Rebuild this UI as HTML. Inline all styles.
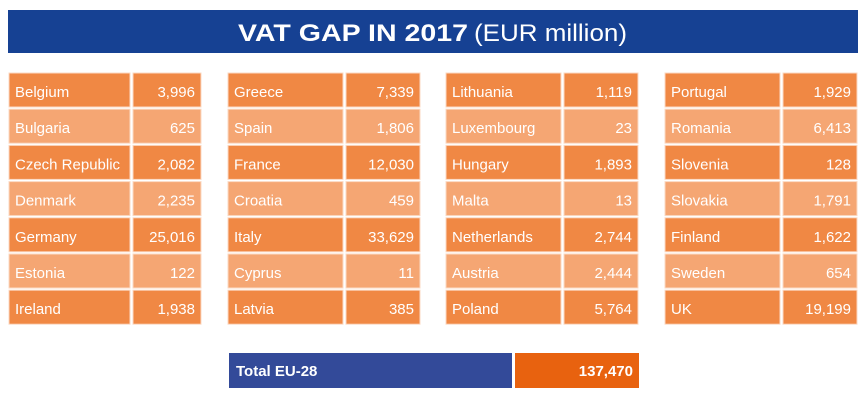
<!DOCTYPE html>
<html><head><meta charset="utf-8"><style>
html,body{margin:0;padding:0;background:#fff;width:866px;height:403px;overflow:hidden}
svg{display:block}
text{font-family:"Liberation Sans",sans-serif;fill:#fff}
.n{font-size:15px}
</style></head><body>
<svg width="866" height="403" viewBox="0 0 866 403" xmlns="http://www.w3.org/2000/svg">
<rect x="8" y="10" width="850" height="43" fill="#164193"/>
<text x="238" y="41" font-size="24" font-weight="bold" textLength="230" lengthAdjust="spacingAndGlyphs">VAT GAP IN 2017</text>
<text x="474" y="41" font-size="24" textLength="153" lengthAdjust="spacingAndGlyphs">(EUR million)</text>
<g id="cells"></g>
<rect x="229" y="353" width="283" height="35" fill="#334A99"/>
<rect x="515" y="353" width="124" height="35" fill="#E8620F"/>
<text x="236" y="376" class="n" font-weight="bold">Total EU-28</text>
<text x="633" y="376" class="n" font-weight="bold" text-anchor="end">137,470</text>
</svg>
<script>
const cols=[
{nx:9,nw:121,vx:133,vw:68,d:[["Belgium","3,996"],["Bulgaria","625"],["Czech Republic","2,082"],["Denmark","2,235"],["Germany","25,016"],["Estonia","122"],["Ireland","1,938"]]},
{nx:228,nw:115,vx:346,vw:74,d:[["Greece","7,339"],["Spain","1,806"],["France","12,030"],["Croatia","459"],["Italy","33,629"],["Cyprus","11"],["Latvia","385"]]},
{nx:446,nw:115,vx:564,vw:74,d:[["Lithuania","1,119"],["Luxembourg","23"],["Hungary","1,893"],["Malta","13"],["Netherlands","2,744"],["Austria","2,444"],["Poland","5,764"]]},
{nx:665,nw:115,vx:783,vw:74,d:[["Portugal","1,929"],["Romania","6,413"],["Slovenia","128"],["Slovakia","1,791"],["Finland","1,622"],["Sweden","654"],["UK","19,199"]]}];
let s="";
cols.forEach(c=>c.d.forEach((r,i)=>{
 const y=73+i*36.2, col=i%2?"#F5A673":"#F08844";
 s+=`<rect x="${c.nx}" y="${y}" width="${c.nw}" height="34" fill="${col}" stroke="#FBD9C3" stroke-width="1"/>`;
 s+=`<rect x="${c.vx}" y="${y}" width="${c.vw}" height="34" fill="${col}" stroke="#FBD9C3" stroke-width="1"/>`;
 s+=`<text class="n" x="${c.nx+6}" y="${y+24}">${r[0]}</text>`;
 s+=`<text class="n" x="${c.vx+c.vw-6}" y="${y+24}" text-anchor="end">${r[1]}</text>`;
}));
document.getElementById("cells").innerHTML=s;
</script>
</body></html>
